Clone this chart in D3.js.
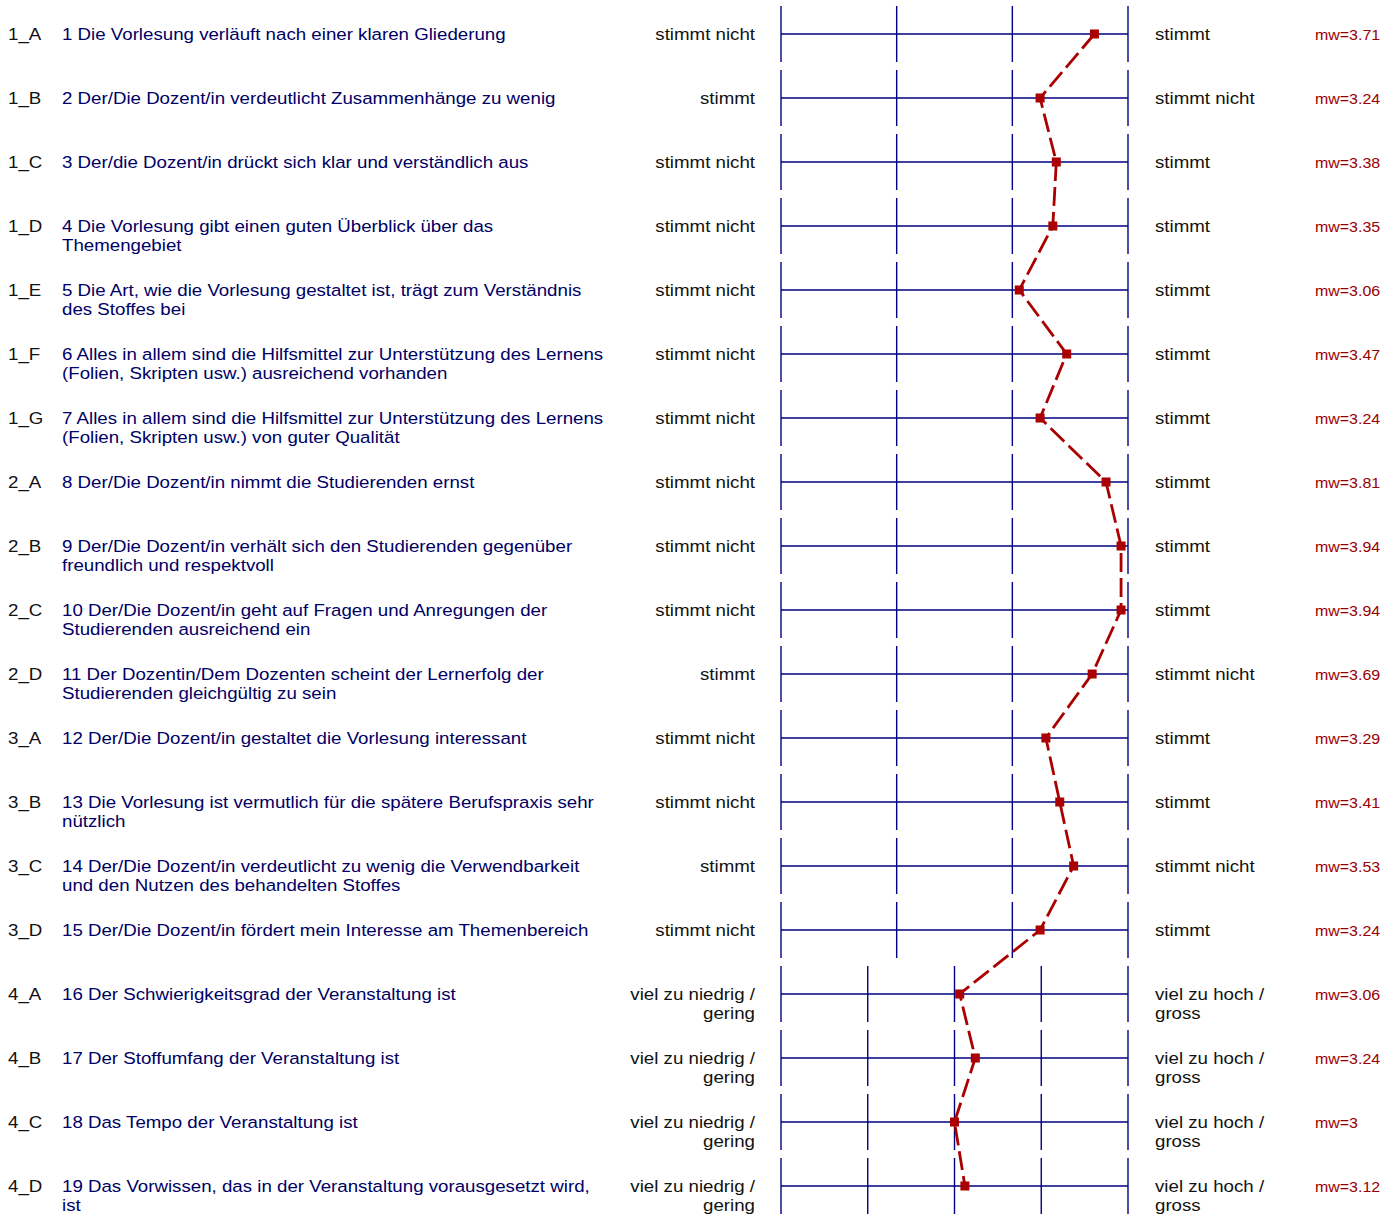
<!DOCTYPE html>
<html>
<head>
<meta charset="utf-8">
<script src="https://cdn.jsdelivr.net/npm/d3@7"></script>
<style>
  body { margin: 0; background: #fff; }
  text { font-family: "Liberation Sans", Arial, sans-serif; }
</style>
</head>
<body>
<div id="chart"></div>
<script>
// Daten der Auswertung
const codes = ["1_A","1_B","1_C","1_D","1_E","1_F","1_G","2_A","2_B","2_C","2_D","3_A","3_B","3_C","3_D","4_A","4_B","4_C","4_D"];
const fragen = [
  "1 Die Vorlesung verläuft nach einer klaren Gliederung",
  "2 Der/Die Dozent/in verdeutlicht Zusammenhänge zu wenig",
  "3 Der/die Dozent/in drückt sich klar und verständlich aus",
  "4 Die Vorlesung gibt einen guten Überblick über das\nThemengebiet",
  "5 Die Art, wie die Vorlesung gestaltet ist, trägt zum Verständnis\ndes Stoffes bei",
  "6 Alles in allem sind die Hilfsmittel zur Unterstützung des Lernens\n(Folien, Skripten usw.) ausreichend vorhanden",
  "7 Alles in allem sind die Hilfsmittel zur Unterstützung des Lernens\n(Folien, Skripten usw.) von guter Qualität",
  "8 Der/Die Dozent/in nimmt die Studierenden ernst",
  "9 Der/Die Dozent/in verhält sich den Studierenden gegenüber\nfreundlich und respektvoll",
  "10 Der/Die Dozent/in geht auf Fragen und Anregungen der\nStudierenden ausreichend ein",
  "11 Der Dozentin/Dem Dozenten scheint der Lernerfolg der\nStudierenden gleichgültig zu sein",
  "12 Der/Die Dozent/in gestaltet die Vorlesung interessant",
  "13 Die Vorlesung ist vermutlich für die spätere Berufspraxis sehr\nnützlich",
  "14 Der/Die Dozent/in verdeutlicht zu wenig die Verwendbarkeit\nund den Nutzen des behandelten Stoffes",
  "15 Der/Die Dozent/in fördert mein Interesse am Themenbereich",
  "16 Der Schwierigkeitsgrad der Veranstaltung ist",
  "17 Der Stoffumfang der Veranstaltung ist",
  "18 Das Tempo der Veranstaltung ist",
  "19 Das Vorwissen, das in der Veranstaltung vorausgesetzt wird,\nist"
];
const linksLabels = ["stimmt nicht","stimmt","stimmt nicht","stimmt nicht","stimmt nicht","stimmt nicht","stimmt nicht","stimmt nicht","stimmt nicht","stimmt nicht","stimmt","stimmt nicht","stimmt nicht","stimmt","stimmt nicht",
  "viel zu niedrig /\ngering","viel zu niedrig /\ngering","viel zu niedrig /\ngering","viel zu niedrig /\ngering"];
const rechtsLabels = ["stimmt","stimmt nicht","stimmt","stimmt","stimmt","stimmt","stimmt","stimmt","stimmt","stimmt","stimmt nicht","stimmt","stimmt","stimmt nicht","stimmt",
  "viel zu hoch /\ngross","viel zu hoch /\ngross","viel zu hoch /\ngross","viel zu hoch /\ngross"];
const mittelwerte = [3.71,3.24,3.38,3.35,3.06,3.47,3.24,3.81,3.94,3.94,3.69,3.29,3.41,3.53,3.24,3.06,3.24,3,3.12];
const skalenStufen = [4,4,4,4,4,4,4,4,4,4,4,4,4,4,4,5,5,5,5];

const width = 1394, height = 1214;
const svg = d3.select("#chart").append("svg")
  .attr("width", width)
  .attr("height", height);

// Zeilen
const yScale = d3.scaleBand()
  .domain(codes)
  .range([2, 2 + 64 * codes.length]);
const rowY = c => yScale(c) + yScale.bandwidth() / 2;

const xLeft = 781, xRight = 1128;
const xScales = {
  4: d3.scaleLinear().domain([1, 4]).range([xLeft, xRight]),
  5: d3.scaleLinear().domain([1, 5]).range([xLeft, xRight])
};

const navy = "#000080";
const rot = "#aa0000";
const dehnung = 1.1; // Schrift ist im Original etwas breiter

function mehrzeilig(sel, str, x, y, anchor) {
  const t = sel.append("text")
    .attr("transform", `translate(${x},${y}) scale(${dehnung},1)`)
    .attr("text-anchor", anchor);
  str.split("\n").forEach((z, i) => {
    t.append("tspan").attr("x", 0).attr("dy", i === 0 ? 0 : 19).text(z);
  });
  return t;
}

codes.forEach((c, i) => {
  const y = rowY(c);
  const xs = xScales[skalenStufen[i]];
  const g = svg.append("g");

  // Achse der Zeile
  g.append("line")
    .attr("x1", xLeft).attr("x2", xRight)
    .attr("y1", y).attr("y2", y)
    .attr("stroke", navy).attr("stroke-width", 1.4);

  d3.range(1, skalenStufen[i] + 1).forEach(v => {
    g.append("line")
      .attr("x1", xs(v)).attr("x2", xs(v))
      .attr("y1", y - 28).attr("y2", y + 28)
      .attr("stroke", navy).attr("stroke-width", 1.4);
  });

  mehrzeilig(g, c, 8, y + 6, "start")
    .style("font-size", "17px").attr("fill", "#111");

  mehrzeilig(g, fragen[i], 62, y + 6, "start")
    .style("font-size", "17px").attr("fill", "#000066");

  mehrzeilig(g, linksLabels[i], 755, y + 6, "end")
    .style("font-size", "17px").attr("fill", "#111");

  mehrzeilig(g, rechtsLabels[i], 1155, y + 6, "start")
    .style("font-size", "17px").attr("fill", "#111");

  mehrzeilig(g, "mw=" + mittelwerte[i], 1315, y + 6, "start")
    .style("font-size", "14.5px").attr("fill", "#990000");
});

// Profillinie
const punkte = codes.map((c, i) => [xScales[skalenStufen[i]](mittelwerte[i]), rowY(c)]);

svg.append("path")
  .datum(punkte)
  .attr("fill", "none")
  .attr("stroke", rot)
  .attr("stroke-width", 2.8)
  .attr("stroke-dasharray", "19,6")
  .attr("d", d3.line());

svg.selectAll(".punkt")
  .data(punkte)
  .enter()
  .append("rect")
  .attr("class", "punkt")
  .attr("x", d => d[0] - 4.5)
  .attr("y", d => d[1] - 4.5)
  .attr("width", 9)
  .attr("height", 9)
  .attr("fill", rot);
</script>
</body>
</html>
